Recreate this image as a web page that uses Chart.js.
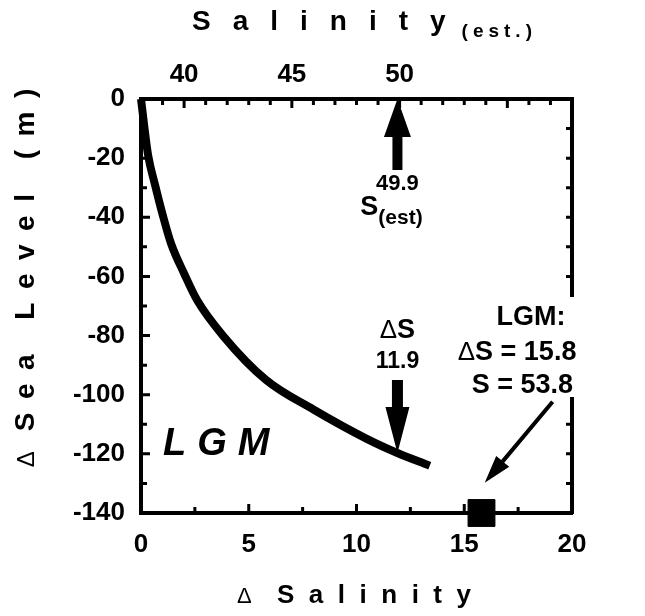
<!DOCTYPE html>
<html>
<head>
<meta charset="utf-8">
<script src="https://cdn.jsdelivr.net/npm/chart.js@4.4.0/dist/chart.umd.min.js"></script>
<style>
  html, body { margin: 0; padding: 0; background: #fff; }
</style>
</head>
<body>
<canvas id="grafico" width="645" height="616"></canvas>
<script>
// curve
const deltaSalinity = [0, 0.33, 0.65, 1.0, 1.4, 2.0, 2.6, 3.8, 5.8, 8.0, 10.5, 11.9, 13.4];
const deltaSeaLevel = [0, -19, -29, -39, -49, -59, -68, -80, -95, -105, -115, -119.7, -124];
// LGM point
const lgmDeltaS = [15.8];
const lgmSeaLevel = [-140];
// tick labels
const bottomTicks = [0, 5, 10, 15, 20];
const leftTicks = [0, -20, -40, -60, -80, -100, -120, -140];
const topTicks = [40, 45, 50];
const salinityBase = 38;

const fonte = "'Liberation Sans', Arial, Helvetica, sans-serif";

function spacedWidth(c, text, spacing) {
  let w = 0;
  for (const ch of text) w += c.measureText(ch).width + spacing;
  return w - spacing;
}
function spacedText(c, text, x, y, spacing) {
  for (const ch of text) {
    c.fillText(ch, x, y);
    x += c.measureText(ch).width + spacing;
  }
  return x - spacing;
}
// runs of text with different fonts, centred on x
function runsText(c, runs, x, y) {
  let total = 0;
  runs.forEach(r => { c.font = r.f; total += c.measureText(r.t).width; });
  let px = x - total / 2;
  runs.forEach(r => {
    c.font = r.f;
    c.fillText(r.t, px, y + (r.dy || 0));
    px += c.measureText(r.t).width;
  });
}
function fatArrow(c, x1, y1, x2, y2, shaft, headLen, headW) {
  const ang = Math.atan2(y2 - y1, x2 - x1);
  const len = Math.hypot(x2 - x1, y2 - y1);
  c.save();
  c.translate(x1, y1);
  c.rotate(ang);
  c.beginPath();
  c.moveTo(0, -shaft / 2);
  c.lineTo(len - headLen, -shaft / 2);
  c.lineTo(len - headLen, -headW / 2);
  c.lineTo(len, 0);
  c.lineTo(len - headLen, headW / 2);
  c.lineTo(len - headLen, shaft / 2);
  c.lineTo(0, shaft / 2);
  c.closePath();
  c.fill();
  c.restore();
}

const extras = {
  id: 'extras',
  afterDraw(chart) {
    const c = chart.ctx;
    const a = chart.chartArea;
    const sx = chart.scales.x, sy = chart.scales.y, st = chart.scales.x2;
    c.save();
    c.fillStyle = '#000';
    c.strokeStyle = '#000';
    c.lineWidth = 3;
    c.lineCap = 'butt';

    // inside ticks
    c.beginPath();
    for (let v = sx.min; v <= sx.max; v += 2.5) {
      const px = sx.getPixelForValue(v);
      const l = v % 5 === 0 ? 9 : 6;
      c.moveTo(px, a.bottom); c.lineTo(px, a.bottom - l);
    }
    for (let v = st.min; v <= st.max; v += 1) {
      const px = st.getPixelForValue(v);
      const l = v % 5 === 0 ? 9 : 6;
      c.moveTo(px, a.top); c.lineTo(px, a.top + l);
    }
    for (let v = sy.min; v <= sy.max; v += 10) {
      const py = sy.getPixelForValue(v);
      const l = v % 20 === 0 ? 9 : 6;
      c.moveTo(a.left, py); c.lineTo(a.left + l, py);
      c.moveTo(a.right, py); c.lineTo(a.right - 6, py);
    }
    c.stroke();

    // axis titles
    c.textBaseline = 'alphabetic';
    c.textAlign = 'left';
    c.font = 'bold 28px ' + fonte;
    let end = spacedText(c, 'Salinity', 192, 30, 22);
    c.font = 'bold 19px ' + fonte;
    spacedText(c, '(est.)', end + 16, 37, 5);

    c.font = 'normal 22px ' + fonte;
    c.fillText('Δ', 237, 603);
    c.font = 'bold 26px ' + fonte;
    spacedText(c, 'Salinity', 277, 603, 14.5);

    c.save();
    c.translate(34, 278);
    c.rotate(-Math.PI / 2);
    c.font = 'bold 28px ' + fonte;
    const lw = spacedWidth(c, 'Sea Level (m)', 13.5);
    c.font = 'normal 24px ' + fonte;
    const dw = c.measureText('Δ').width;
    const startX = -(dw + 20 + lw) / 2;
    c.fillText('Δ', startX, 0);
    c.font = 'bold 28px ' + fonte;
    spacedText(c, 'Sea Level (m)', startX + dw + 20, 0, 13.5);
    c.restore();

    // S(est) arrow
    const xEst = sx.getPixelForValue(11.9);
    fatArrow(c, xEst, sy.getPixelForValue(-24), xEst, a.top, 10, 38, 27);
    runsText(c, [{ t: '49.9', f: 'bold 22px ' + fonte }], xEst, 190);
    runsText(c, [
      { t: 'S', f: 'bold 27px ' + fonte },
      { t: '(est)', f: 'bold 21px ' + fonte, dy: 9 }
    ], xEst - 6, 215);

    // delta S arrow
    runsText(c, [
      { t: 'Δ', f: 'normal 26px ' + fonte },
      { t: 'S', f: 'bold 27px ' + fonte }
    ], xEst, 338);
    runsText(c, [{ t: '11.9', f: 'bold 23px ' + fonte }], xEst, 368);
    fatArrow(c, xEst, sy.getPixelForValue(-95), xEst, sy.getPixelForValue(-119.7), 11, 46, 24);

    // LGM label, white behind it breaks the right axis
    c.fillStyle = '#fff';
    c.fillRect(458, 297, 120, 100);
    c.fillStyle = '#000';
    runsText(c, [{ t: 'LGM:', f: 'bold 27px ' + fonte }], sx.getPixelForValue(18.1), 325);
    runsText(c, [
      { t: 'Δ', f: 'normal 26px ' + fonte },
      { t: 'S = 15.8', f: 'bold 27px ' + fonte }
    ], sx.getPixelForValue(17.45), 360);
    runsText(c, [{ t: 'S = 53.8', f: 'bold 27px ' + fonte }], sx.getPixelForValue(17.7), 393);

    // thin arrow to the LGM square
    const x1 = sx.getPixelForValue(19.1), y1 = sy.getPixelForValue(-102.4);
    const x2 = sx.getPixelForValue(15.95), y2 = sy.getPixelForValue(-129.8);
    fatArrow(c, x1, y1, x2, y2, 4, 28, 17);

    // big italic LGM
    c.font = 'italic bold 38px ' + fonte;
    spacedText(c, 'LGM', 163, 455, 11);

    c.restore();
  }
};

const tickFont = { family: fonte, size: 26, weight: 'bold' };

new Chart(document.getElementById('grafico'), {
  type: 'scatter',
  data: {
    datasets: [
      {
        label: 'curve',
        data: deltaSalinity.map((v, i) => ({ x: v, y: deltaSeaLevel[i] })),
        showLine: true,
        borderColor: '#000',
        borderWidth: 8,
        pointRadius: 0,
        cubicInterpolationMode: 'monotone',
        borderCapStyle: 'butt',
        clip: false
      },
      {
        label: 'LGM',
        data: lgmDeltaS.map((v, i) => ({ x: v, y: lgmSeaLevel[i] })),
        pointStyle: 'rect',
        pointRadius: 19,
        backgroundColor: '#000',
        borderColor: '#000',
        borderWidth: 1,
        clip: false
      }
    ]
  },
  options: {
    responsive: false,
    animation: false,
    layout: { padding: 0 },
    plugins: { legend: { display: false }, tooltip: { enabled: false } },
    scales: {
      x: {
        type: 'linear', position: 'bottom', min: 0, max: 20,
        afterBuildTicks: s => { s.ticks = bottomTicks.map(v => ({ value: v })); },
        afterFit: s => { s.height = 103; },
        grid: { display: false, drawTicks: false },
        border: { display: true, width: 4, color: '#000' },
        ticks: { font: tickFont, color: '#000', padding: 16, maxRotation: 0 }
      },
      x2: {
        type: 'linear', position: 'top', min: salinityBase, max: salinityBase + 20,
        afterBuildTicks: s => { s.ticks = topTicks.map(v => ({ value: v })); },
        afterFit: s => { s.height = 99; },
        grid: { display: false, drawTicks: false },
        border: { display: true, width: 4, color: '#000' },
        ticks: { font: tickFont, color: '#000', padding: 9, maxRotation: 0 }
      },
      y: {
        type: 'linear', position: 'left', min: -140, max: 0,
        afterBuildTicks: s => { s.ticks = leftTicks.map(v => ({ value: v })); },
        afterFit: s => { s.width = 141; },
        grid: { display: false, drawTicks: false },
        border: { display: true, width: 4, color: '#000' },
        ticks: { font: tickFont, color: '#000', padding: 16 }
      },
      y2: {
        type: 'linear', position: 'right', min: -140, max: 0,
        afterFit: s => { s.width = 73; },
        grid: { display: false, drawTicks: false },
        border: { display: true, width: 4, color: '#000' },
        ticks: { display: false }
      }
    }
  },
  plugins: [extras]
});
</script>
</body>
</html>
